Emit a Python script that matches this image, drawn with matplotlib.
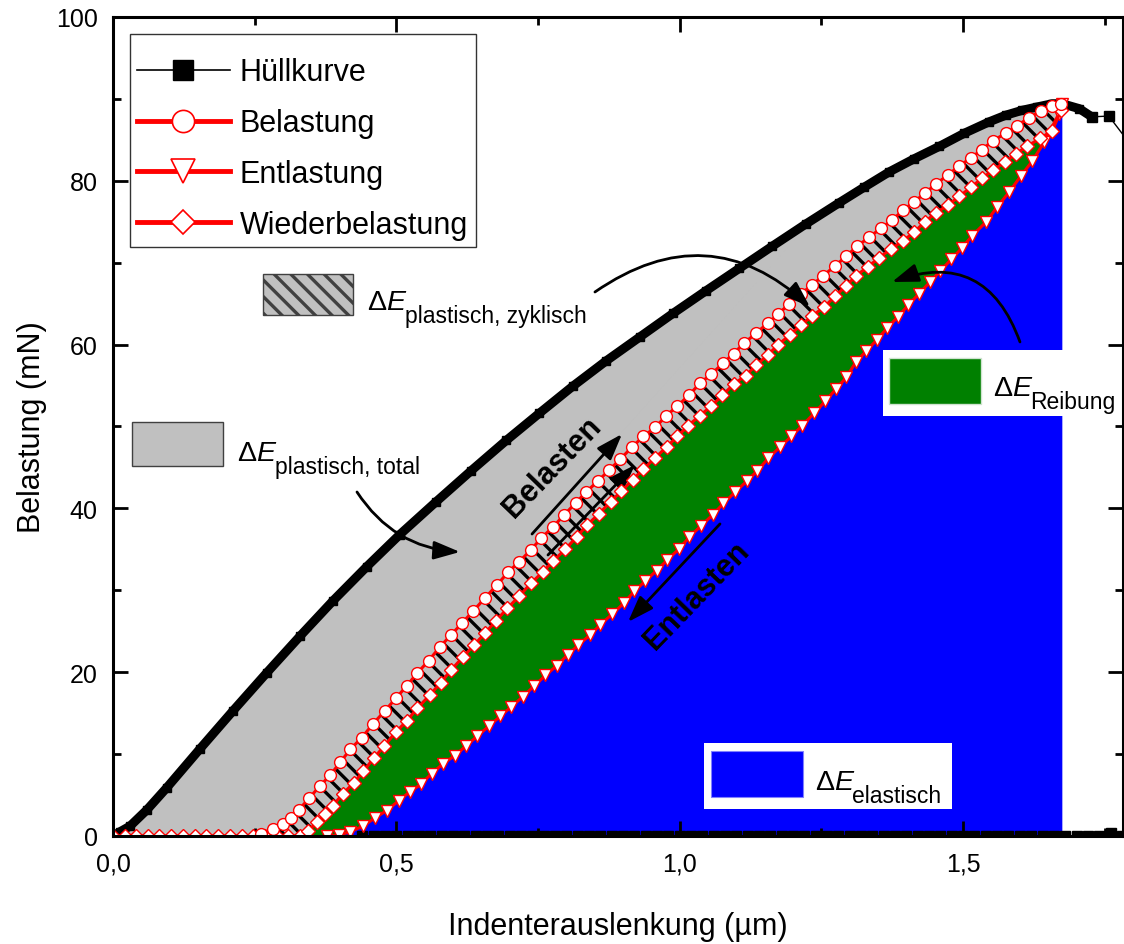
import numpy as np
import matplotlib
matplotlib.use("Agg")
import matplotlib.pyplot as plt
from matplotlib.lines import Line2D
from matplotlib.patches import Rectangle

plt.rcParams["font.family"] = ["Liberation Sans", "DejaVu Sans"]
plt.rcParams["mathtext.fontset"] = "custom"
plt.rcParams["mathtext.rm"] = "Liberation Sans"
plt.rcParams["mathtext.it"] = "Liberation Sans:italic"
plt.rcParams["mathtext.bf"] = "Liberation Sans:bold"
plt.rcParams["hatch.linewidth"] = 2.4

# Hüllkurve (Belastung bis zum Maximum, danach Abfall)
huell_x = [0.0, 0.012, 0.03, 0.06, 0.095, 0.153, 0.212, 0.271, 0.330, 0.388, 0.448, 0.506,
           0.57, 0.632, 0.694, 0.752, 0.811, 0.870, 0.929, 0.988, 1.047, 1.105, 1.163, 1.222,
           1.281, 1.325, 1.370, 1.414, 1.458, 1.502, 1.546, 1.575, 1.604, 1.630, 1.657, 1.675,
           1.705, 1.727]
huell_y = [0.0, 0.5, 1.2, 3.2, 5.9, 10.6, 15.3, 19.9, 24.4, 28.7, 32.9, 36.8,
           40.8, 44.6, 48.3, 51.6, 54.9, 58.0, 60.9, 63.8, 66.6, 69.3, 72.0, 74.7,
           77.3, 79.2, 81.1, 82.7, 84.2, 85.8, 87.2, 88.0, 88.6, 89.0, 89.4, 89.4,
           88.8, 87.8]
huell_ende_x = [1.727, 1.757, 1.80]
huell_ende_y = [87.8, 87.9, 84.0]

# Hüllkurve bei Nulllast
null_x = [0.44, 0.46, 0.48, 0.50, 0.52, 0.54, 0.56, 0.58, 0.60, 0.62, 0.64, 0.66, 0.68, 0.70,
          0.72, 0.74, 0.76, 0.78, 0.80, 0.82, 0.84, 0.86, 0.88, 0.90, 0.92, 0.94, 0.96, 0.98,
          1.00, 1.02, 1.04, 1.06, 1.08, 1.10, 1.12, 1.14, 1.16, 1.18, 1.20, 1.22, 1.24, 1.26,
          1.28, 1.30, 1.32, 1.34, 1.36, 1.38, 1.40, 1.42, 1.44, 1.46, 1.48, 1.50, 1.52, 1.54,
          1.56, 1.58, 1.60, 1.62, 1.64, 1.66, 1.68, 1.70, 1.72, 1.74, 1.76, 1.78]
null_y = [0.0] * 66 + [0.4, 0.0]

# Belastung
bel_x = [0.262, 0.282, 0.300, 0.314, 0.328, 0.346, 0.365, 0.383, 0.401, 0.419, 0.439, 0.459,
         0.480, 0.499, 0.518, 0.537, 0.557, 0.577, 0.596, 0.616, 0.636, 0.657, 0.677, 0.697,
         0.717, 0.737, 0.756, 0.776, 0.796, 0.817, 0.835, 0.855, 0.876, 0.895, 0.916, 0.936,
         0.957, 0.976, 0.996, 1.016, 1.036, 1.056, 1.076, 1.095, 1.114, 1.135, 1.155, 1.174,
         1.193, 1.214, 1.234, 1.253, 1.274, 1.294, 1.313, 1.334, 1.355, 1.375, 1.394, 1.413,
         1.433, 1.452, 1.473, 1.493, 1.514, 1.533, 1.553, 1.575, 1.595, 1.616, 1.637, 1.657,
         1.673]
bel_y = [0.2, 0.85, 1.5, 2.2, 3.2, 4.6, 6.1, 7.4, 9.0, 10.6, 12.0, 13.7,
         15.3, 16.8, 18.3, 19.9, 21.4, 23.1, 24.5, 26.0, 27.5, 29.1, 30.6, 32.2,
         33.5, 34.9, 36.4, 37.7, 39.2, 40.7, 42.0, 43.3, 44.7, 46.0, 47.5, 48.8,
         49.9, 51.3, 52.5, 53.8, 55.3, 56.4, 57.7, 58.9, 60.2, 61.4, 62.6, 63.7,
         65.0, 66.2, 67.3, 68.4, 69.6, 70.8, 72.0, 73.1, 74.2, 75.2, 76.4, 77.4,
         78.5, 79.6, 80.7, 81.8, 82.8, 83.8, 84.9, 85.8, 86.7, 87.7, 88.5, 89.1,
         89.4]

# Entlastung (vom Maximum abwärts)
ent_x = [1.675, 1.669, 1.643, 1.622, 1.602, 1.581, 1.560, 1.541, 1.516, 1.498, 1.479, 1.460,
         1.441, 1.422, 1.403, 1.385, 1.366, 1.348, 1.329, 1.311, 1.294, 1.276, 1.257, 1.237,
         1.216, 1.197, 1.177, 1.156, 1.137, 1.118, 1.098, 1.077, 1.058, 1.038, 1.017, 0.998,
         0.978, 0.959, 0.939, 0.920, 0.901, 0.881, 0.860, 0.841, 0.821, 0.802, 0.783, 0.763,
         0.743, 0.723, 0.703, 0.683, 0.663, 0.643, 0.623, 0.603, 0.582, 0.562, 0.543, 0.524,
         0.504, 0.483, 0.462, 0.441, 0.418, 0.398, 0.378]
ent_y = [89.4, 88.2, 84.7, 82.4, 80.6, 78.6, 76.8, 75.0, 73.3, 71.8, 70.4, 69.0,
         67.6, 66.2, 64.8, 63.4, 62.0, 60.6, 59.2, 57.9, 56.0, 54.6, 53.1, 51.6,
         50.1, 48.8, 47.5, 46.1, 44.6, 43.3, 42.0, 40.6, 39.2, 37.9, 36.5, 35.0,
         33.7, 32.4, 31.1, 29.9, 28.4, 27.1, 25.8, 24.5, 23.3, 22.1, 20.8, 19.6,
         18.3, 17.0, 15.8, 14.6, 13.4, 12.2, 11.0, 9.8, 8.8, 7.6, 6.3, 5.4,
         4.3, 3.1, 2.2, 1.2, 0.5, 0.1, 0.0]

# Wiederbelastung
wied_x = [0.0, 0.021, 0.041, 0.062, 0.082, 0.103, 0.124, 0.144, 0.165, 0.186, 0.206, 0.227,
          0.247, 0.268, 0.289, 0.309, 0.330, 0.344, 0.360, 0.374, 0.388, 0.405, 0.425, 0.442,
          0.460, 0.479, 0.499, 0.518, 0.537, 0.559, 0.578, 0.597, 0.617, 0.637, 0.657, 0.676,
          0.696, 0.717, 0.738, 0.758, 0.777, 0.798, 0.818, 0.837, 0.857, 0.878, 0.897, 0.917,
          0.936, 0.957, 0.977, 0.996, 1.015, 1.035, 1.056, 1.075, 1.096, 1.116, 1.135, 1.155,
          1.174, 1.195, 1.214, 1.234, 1.255, 1.274, 1.294, 1.311, 1.332, 1.352, 1.373, 1.393,
          1.413, 1.433, 1.452, 1.473, 1.493, 1.514, 1.533, 1.553, 1.574, 1.593, 1.613, 1.636,
          1.657, 1.673]
wied_y = [0.0] * 17 + [0.6, 1.7, 2.7, 3.7, 5.1, 6.5, 7.9,
          9.5, 11.0, 12.7, 14.0, 15.6, 17.2, 18.7, 20.3, 21.8, 23.3, 24.8, 26.3,
          27.8, 29.3, 30.9, 32.2, 33.6, 35.0, 36.5, 38.0, 39.3, 40.8, 42.1, 43.5,
          44.8, 46.2, 47.5, 48.8, 50.1, 51.3, 52.5, 53.8, 55.2, 56.2, 57.5, 58.7,
          60.0, 61.2, 62.4, 63.5, 64.6, 65.9, 67.2, 68.4, 69.5, 70.6, 71.7, 72.6,
          73.7, 75.0, 76.1, 77.0, 78.1, 79.2, 80.3, 81.3, 82.3, 83.3, 84.2, 85.2,
          86.1, 88.6]

GRAU = "#c0c0c0"
GRUEN = "#008000"
BLAU = "#0000ff"

fig = plt.figure(figsize=(11.24, 9.45), dpi=100)
ax = fig.add_axes([0.1005, 0.1143, 0.8986, 0.8667])

huell_x = np.array(huell_x); huell_y = np.array(huell_y)
bel_x = np.array(bel_x); bel_y = np.array(bel_y)
ent_x = np.array(ent_x); ent_y = np.array(ent_y)
wied_x = np.array(wied_x); wied_y = np.array(wied_y)

# Flächen zwischen den Kurven
i_max = int(np.argmax(huell_y))
ax.fill(np.r_[huell_x[:i_max + 1], bel_x[::-1]], np.r_[huell_y[:i_max + 1], bel_y[::-1]],
        facecolor=GRAU, edgecolor="none", zorder=1)
w = wied_x >= 0.33
ax.fill(np.r_[bel_x, wied_x[w][::-1]], np.r_[bel_y, wied_y[w][::-1]],
        facecolor=GRAU, edgecolor="black", hatch="\\\\", linewidth=0, zorder=1)
ax.fill(np.r_[wied_x[w], ent_x], np.r_[wied_y[w], ent_y],
        facecolor=GRUEN, edgecolor="none", zorder=1)
ax.fill(np.r_[ent_x, ent_x[0]], np.r_[ent_y, 0.0],
        facecolor=BLAU, edgecolor="none", zorder=1)

# Messkurven
ax.plot(huell_x, huell_y, color="black", lw=6.5, marker="s", ms=6, zorder=3)
ax.plot(huell_ende_x, huell_ende_y, color="black", lw=1, marker="s", ms=7, zorder=3)
ax.plot(null_x, null_y, color="black", lw=1, marker="s", ms=6.5, ls="none", zorder=3)
rot = dict(color="red", lw=2.2, mfc="white", mec="red", mew=1.0)
ax.plot(ent_x, ent_y, marker="v", ms=9, zorder=4, **rot)
ax.plot(wied_x, wied_y, marker="D", ms=7.2, zorder=5, **rot)
ax.plot(bel_x, bel_y, marker="o", ms=8.5, zorder=6, **rot)

ax.set_xlim(0, 1.782)
ax.set_ylim(0, 100)
ax.set_xticks([0, 0.5, 1.0, 1.5])
ax.set_xticklabels(["0,0", "0,5", "1,0", "1,5"])
ax.set_xticks([0.25, 0.75, 1.25, 1.75], minor=True)
ax.set_yticks([0, 20, 40, 60, 80, 100])
ax.set_yticks([10, 30, 50, 70, 90], minor=True)
ax.tick_params(which="both", direction="in", top=True, right=True, width=2, labelsize=18, pad=11)
ax.tick_params(which="major", length=11)
ax.tick_params(which="minor", length=6)
for s in ax.spines.values():
    s.set_linewidth(2.2)
    s.set_zorder(10)

ax.set_xlabel("Indenterauslenkung (µm)", fontsize=22, va="center")
ax.set_ylabel("Belastung (mN)", fontsize=22, va="center")
ax.xaxis.set_label_coords(0.5, -0.11)
ax.yaxis.set_label_coords(-0.08, 0.5)

T = ax.transAxes

# Legende: Rahmen als eigenes Rechteck, Einträge ohne Rahmen darin
handles = [
    Line2D([], [], color="black", lw=1.2, marker="s", ms=14),
    Line2D([], [], color="red", lw=3.5, marker="o", ms=16, mfc="white", mec="red", mew=1.2),
    Line2D([], [], color="red", lw=3.5, marker="v", ms=17, mfc="white", mec="red", mew=1.2),
    Line2D([], [], color="red", lw=3.5, marker="D", ms=12, mfc="white", mec="red", mew=1.2),
]
labels = ["Hüllkurve", "Belastung", "Entlastung", "Wiederbelastung"]
ax.add_patch(Rectangle((0.0168, 0.7192), 0.3426, 0.2601, transform=T, facecolor="white",
                       edgecolor="#333333", lw=1.0, zorder=11))
leg = ax.legend(handles, labels, loc="upper left", bbox_to_anchor=(0.0238, 0.9505),
                borderaxespad=0, fontsize=22, frameon=False, handlelength=3.04,
                handletextpad=0.33, labelspacing=0.68, borderpad=0)
leg.set_zorder(12)

# Felder mit Flächenbeschriftung
ax.add_patch(Rectangle((0.0188, 0.4518), 0.0901, 0.0537, transform=T, facecolor=GRAU,
                       edgecolor="#404040", lw=1, zorder=8))
ax.add_patch(Rectangle((0.1485, 0.6361), 0.0891, 0.0501, transform=T, facecolor=GRAU,
                       edgecolor="#404040", hatch="\\\\", lw=1, zorder=8))
ax.add_patch(Rectangle((0.7624, 0.5128), 0.26, 0.0806, transform=T, facecolor="white",
                       edgecolor="none", zorder=8, clip_on=False))
ax.add_patch(Rectangle((0.7683, 0.5275), 0.0911, 0.0561, transform=T, facecolor=GRUEN,
                       edgecolor="#cfe3cf", lw=1, zorder=9))
ax.add_patch(Rectangle((0.5851, 0.0330), 0.2456, 0.0806, transform=T, facecolor="white",
                       edgecolor="none", zorder=8))
ax.add_patch(Rectangle((0.5920, 0.0476), 0.0912, 0.0562, transform=T, facecolor=BLAU,
                       edgecolor="#8080ff", lw=0.8, zorder=9))


def delta_e(x, y, index):
    """ΔE mit tiefgestelltem Index, der Index sitzt rechts unten an E"""
    t = ax.text(x, y, r"$\Delta\mathit{E}$", transform=T, fontsize=20.5, va="baseline",
                zorder=9, clip_on=False)
    ax.annotate(index, xy=(1, 0), xycoords=t, xytext=(-2.0, -5.0), textcoords="offset points",
                fontsize=16.5, va="baseline", ha="left", zorder=9, annotation_clip=False)


delta_e(0.1228, 0.459, "plastisch, total")
delta_e(0.2515, 0.6435, "plastisch, zyklisch")
delta_e(0.8713, 0.5385, "Reibung")
delta_e(0.695, 0.0574, "elastisch")

# Pfeile
pfeil = dict(arrowstyle="-|>,head_length=1.0,head_width=0.35", color="black", lw=2.0,
             mutation_scale=16, shrinkA=0, shrinkB=0)
ax.annotate("", xy=(0.6901, 0.6459), xytext=(0.4772, 0.6642), xycoords=T, textcoords=T,
            arrowprops=dict(connectionstyle="arc3,rad=-0.4", **pfeil), zorder=9)
ax.annotate("", xy=(0.7713, 0.6764), xytext=(0.8980, 0.6032), xycoords=T, textcoords=T,
            arrowprops=dict(connectionstyle="arc3,rad=0.5", **pfeil), zorder=9)
ax.annotate("", xy=(0.3436, 0.3468), xytext=(0.2416, 0.4200), xycoords=T, textcoords=T,
            arrowprops=dict(connectionstyle="arc3,rad=0.25", **pfeil), zorder=9)
ax.annotate("", xy=(0.5040, 0.4908), xytext=(0.4149, 0.3687), xycoords=T, textcoords=T,
            arrowprops=pfeil, zorder=9)
ax.annotate("", xy=(0.5168, 0.4530), xytext=(0.4307, 0.3431), xycoords=T, textcoords=T,
            arrowprops=pfeil, zorder=2)
ax.annotate("", xy=(0.5099, 0.2613), xytext=(0.6010, 0.3810), xycoords=T, textcoords=T,
            arrowprops=pfeil, zorder=9)

ax.text(0.4347, 0.4505, "Belasten", transform=T, fontsize=22, fontweight="bold",
        rotation=46, ha="center", va="center", rotation_mode="anchor", zorder=9)
ax.text(0.5782, 0.2943, "Entlasten", transform=T, fontsize=22, fontweight="bold",
        rotation=46, ha="center", va="center", rotation_mode="anchor", zorder=9)

fig.savefig("out.png", dpi=100)
